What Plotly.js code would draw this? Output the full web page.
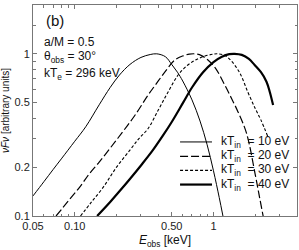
<!DOCTYPE html>
<html>
<head>
<meta charset="utf-8">
<script src="https://cdn.plot.ly/plotly-3.0.1.min.js"></script>
<style>html,body{margin:0;padding:0;background:#fff;}#chart{width:299px;height:250px;}</style>
</head>
<body>
<div id="chart"></div>
<script>
// Energies (keV) and normalised nuFnu values
const e10 = [0.05,0.06,0.07,0.08,0.10,0.12,0.15,0.18,0.21,0.25,0.30,0.35,0.39,0.45,0.50,0.55,0.60,0.70,0.80,0.90,1.00,1.10,1.17];
const v10 = [0.133,0.163,0.194,0.225,0.289,0.355,0.485,0.62,0.74,0.86,0.95,0.99,1.0,0.96,0.86,0.77,0.68,0.52,0.385,0.275,0.19,0.13,0.1];

const e20 = [0.0733,0.09,0.11,0.128,0.15,0.18,0.222,0.27,0.338,0.40,0.46,0.526,0.60,0.67,0.733,0.82,0.92,1.03,1.205,1.35,1.50,1.73,2.0,2.15,2.28];
const v20 = [0.1,0.124,0.153,0.183,0.215,0.262,0.331,0.415,0.557,0.68,0.80,0.916,0.97,0.995,1.0,0.975,0.91,0.82,0.643,0.53,0.44,0.324,0.18,0.13,0.1];

const e30 = [0.11,0.13,0.16,0.2,0.25,0.29,0.337,0.40,0.47,0.556,0.65,0.75,0.87,1.0,1.07,1.2,1.35,1.55,1.77,2.0,2.2,2.46];
const v30 = [0.1,0.12,0.15,0.2,0.255,0.3,0.345,0.45,0.58,0.74,0.85,0.92,0.97,0.995,1.0,0.98,0.9,0.76,0.58,0.46,0.39,0.31];

const e40 = [0.145,0.18,0.21,0.248,0.3,0.36,0.434,0.5,0.604,0.7,0.841,1.0,1.15,1.3,1.42,1.6,1.8,1.98,2.2,2.41,2.55,2.69];
const v40 = [0.1,0.122,0.142,0.168,0.205,0.25,0.315,0.38,0.5,0.62,0.77,0.89,0.96,0.995,1.0,0.985,0.93,0.853,0.77,0.673,0.58,0.483];

const seriesNames = ['kT<sub>in</sub>  = 10 eV','kT<sub>in</sub>  = 20 eV','kT<sub>in</sub>  = 30 eV','kT<sub>in</sub>  = 40 eV'];

const xTickVals = [0.05,0.1,0.5,1];
const xTickText = ['0.05','0.10','0.50','1'];
const xMinor = [0.06,0.07,0.08,0.09,0.2,0.3,0.4,0.6,0.7,0.8,0.9,2,3];
const yTickVals = [0.1,0.2,0.5,1,2];
const yTickText = ['0.1','0.2','0.5','1','2'];
const yMinor = [0.3,0.4,0.6,0.7,0.8,0.9,1.5];

const FONT = 'Liberation Sans, Arial, sans-serif';

const styles = [
  {width:1, dash:'solid'},
  {width:1.2, dash:'8px,3px'},
  {width:1.1, dash:'3px,2px'},
  {width:2.2, dash:'solid'}
];
const xs = [e10,e20,e30,e40], ys = [v10,v20,v30,v40];
const traces = xs.map((x,i)=>({
  x:x, y:ys[i], type:'scatter', mode:'lines', name:seriesNames[i],
  line:{color:'#000', width:styles[i].width, dash:styles[i].dash, shape:'spline', smoothing:1}
}));

// legend drawn as key lines + labels inside the plot
const legRows = [0.351, 0.283, 0.216, 0.149];
const legShapes = styles.map((s,i)=>({
  type:'line', xref:'paper', yref:'paper', x0:0.557, x1:0.678, y0:legRows[i], y1:legRows[i],
  line:{color:'#000', width:s.width, dash:s.dash}
}));
const legText = seriesNames.map((n,i)=>({
  xref:'paper', yref:'paper', x:0.705, y:legRows[i], xanchor:'left', yanchor:'middle', showarrow:false,
  text:n, font:{family:FONT, size:12, color:'#111'}
}));

const axisCommon = {
  type:'log', showgrid:false, zeroline:false, showline:true, linecolor:'#777', linewidth:1,
  mirror:'ticks', ticks:'inside', ticklen:4, tickwidth:1, tickcolor:'#777',
  tickfont:{family:FONT, size:11, color:'#222'}, tickmode:'array'
};

const layout = {
  width:299, height:250,
  margin:{l:33, r:2, t:5, b:34},
  paper_bgcolor:'#fff', plot_bgcolor:'#fff',
  showlegend:false,
  xaxis:Object.assign({}, axisCommon, {
    range:[Math.log10(0.05), Math.log10(4)],
    tickvals:xTickVals, ticktext:xTickText,
    minor:{tickvals:xMinor, ticks:'inside', ticklen:2.5, tickcolor:'#777', tickwidth:1},
    title:{text:'<i>E</i><sub>obs</sub> [keV]', font:{family:FONT, size:12, color:'#111'}, standoff:4}
  }),
  yaxis:Object.assign({}, axisCommon, {
    range:[Math.log10(0.1), Math.log10(2)],
    tickvals:yTickVals, ticktext:yTickText,
    minor:{tickvals:yMinor, ticks:'inside', ticklen:2.5, tickcolor:'#777', tickwidth:1},
    title:{text:'<i>νFν</i> [arbitrary units]', font:{family:FONT, size:10, color:'#111'}, standoff:3}
  }),
  shapes:legShapes,
  annotations:[
    {xref:'paper', yref:'paper', x:0.04, y:0.925, xanchor:'left', yanchor:'middle', showarrow:false,
     text:'(b)', font:{family:FONT, size:15, color:'#111'}},
    {xref:'paper', yref:'paper', x:0.035, y:0.825, xanchor:'left', yanchor:'middle', showarrow:false,
     text:'a/M = 0.5', font:{family:FONT, size:12, color:'#111'}},
    {xref:'paper', yref:'paper', x:0.035, y:0.752, xanchor:'left', yanchor:'middle', showarrow:false,
     text:'θ<sub>obs</sub> = 30°', font:{family:FONT, size:12, color:'#111'}},
    {xref:'paper', yref:'paper', x:0.035, y:0.675, xanchor:'left', yanchor:'middle', showarrow:false,
     text:'kT<sub>e</sub> = 296 keV', font:{family:FONT, size:12, color:'#111'}}
  ].concat(legText)
};

Plotly.newPlot('chart', traces, layout, {staticPlot:true, displayModeBar:false});
</script>
</body>
</html>
